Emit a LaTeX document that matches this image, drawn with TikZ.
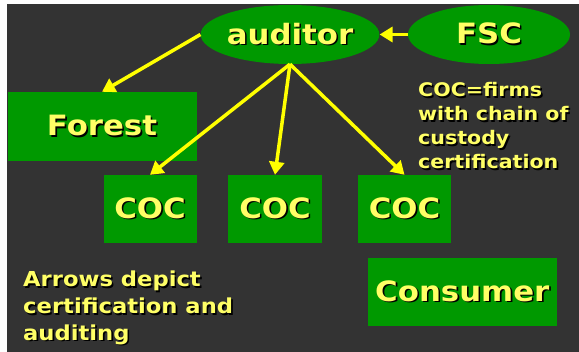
\documentclass[tikz,border=0pt]{standalone}
\usepackage{fontspec}
\usetikzlibrary{shapes.geometric,arrows.meta}
\newfontfamily\vfont{DejaVu Sans}[FakeStretch=1.1]
\definecolor{bgdark}{HTML}{333333}
\definecolor{ggreen}{HTML}{009900}
\definecolor{tyellow}{HTML}{FFFF66}
\definecolor{ayellow}{HTML}{FFFF00}
\newcommand\shd[1]{\makebox[0pt][l]{\kern1.6pt\raisebox{-1.6pt}{\color{black}#1}}#1}
\tikzset{
  bigtext/.style={text=tyellow, font=\vfont\bfseries\fontsize{28}{34}\selectfont},
  oval/.style={ellipse, fill=ggreen, inner sep=0pt, minimum width=162pt, minimum height=59pt, bigtext},
  greenbox/.style={rectangle, fill=ggreen, inner sep=0pt, minimum height=68pt, bigtext},
  smallnote/.style={text=tyellow, inner sep=0pt, align=left, font=\vfont\bfseries\fontsize{18.7}{23.9}\selectfont},
  midnote/.style={text=tyellow, inner sep=0pt, align=left, font=\vfont\bfseries\fontsize{20.6}{26.7}\selectfont},
  arr/.style={draw=ayellow, line width=3.5pt, -{Triangle[length=13pt,width=15pt]}}
}
\begin{document}
\begin{tikzpicture}[x=1pt,y=1pt]
\useasboundingbox (0,0) rectangle (579,-352);
\fill[white] (0,0) rectangle (579,-352);
\fill[bgdark] (7,-4) rectangle (579,-352);
\node[oval] (auditor) at (290,-34.5) {\shd{auditor}};
\node[oval] (fsc) at (489,-34.5) {\shd{FSC}};
\node[greenbox, minimum width=189pt, minimum height=69pt] (forest) at (102,-126.5) {\shd{Forest}};
\node[greenbox, minimum width=93pt] (coc1) at (150,-209) {\shd{COC}};
\node[greenbox, minimum width=94pt] (coc2) at (275,-209) {\shd{COC}};
\node[greenbox, minimum width=93pt] (coc3) at (404.5,-209) {\shd{COC}};
\node[greenbox, minimum width=188.5pt] (consumer) at (462.3,-292) {\shd{Consumer}};
\node[smallnote, anchor=north west] (cocnote) at (418,-82.5) {\shd{COC=firms}\\\shd{with chain of}\\\shd{custody}\\\shd{certification}};
\node[midnote, anchor=north west] (arrnote) at (23,-271) {\shd{Arrows depict}\\\shd{certification and}\\\shd{auditing}};
\draw[arr] (fsc.west) -- (auditor.east);
\draw[arr] (auditor.west) -- (forest.north);
\draw[arr] (auditor.south) -- (coc1.north);
\draw[arr] (auditor.south) -- (coc2.north);
\draw[arr] (auditor.south) -- (coc3.north);
\end{tikzpicture}
\end{document}
